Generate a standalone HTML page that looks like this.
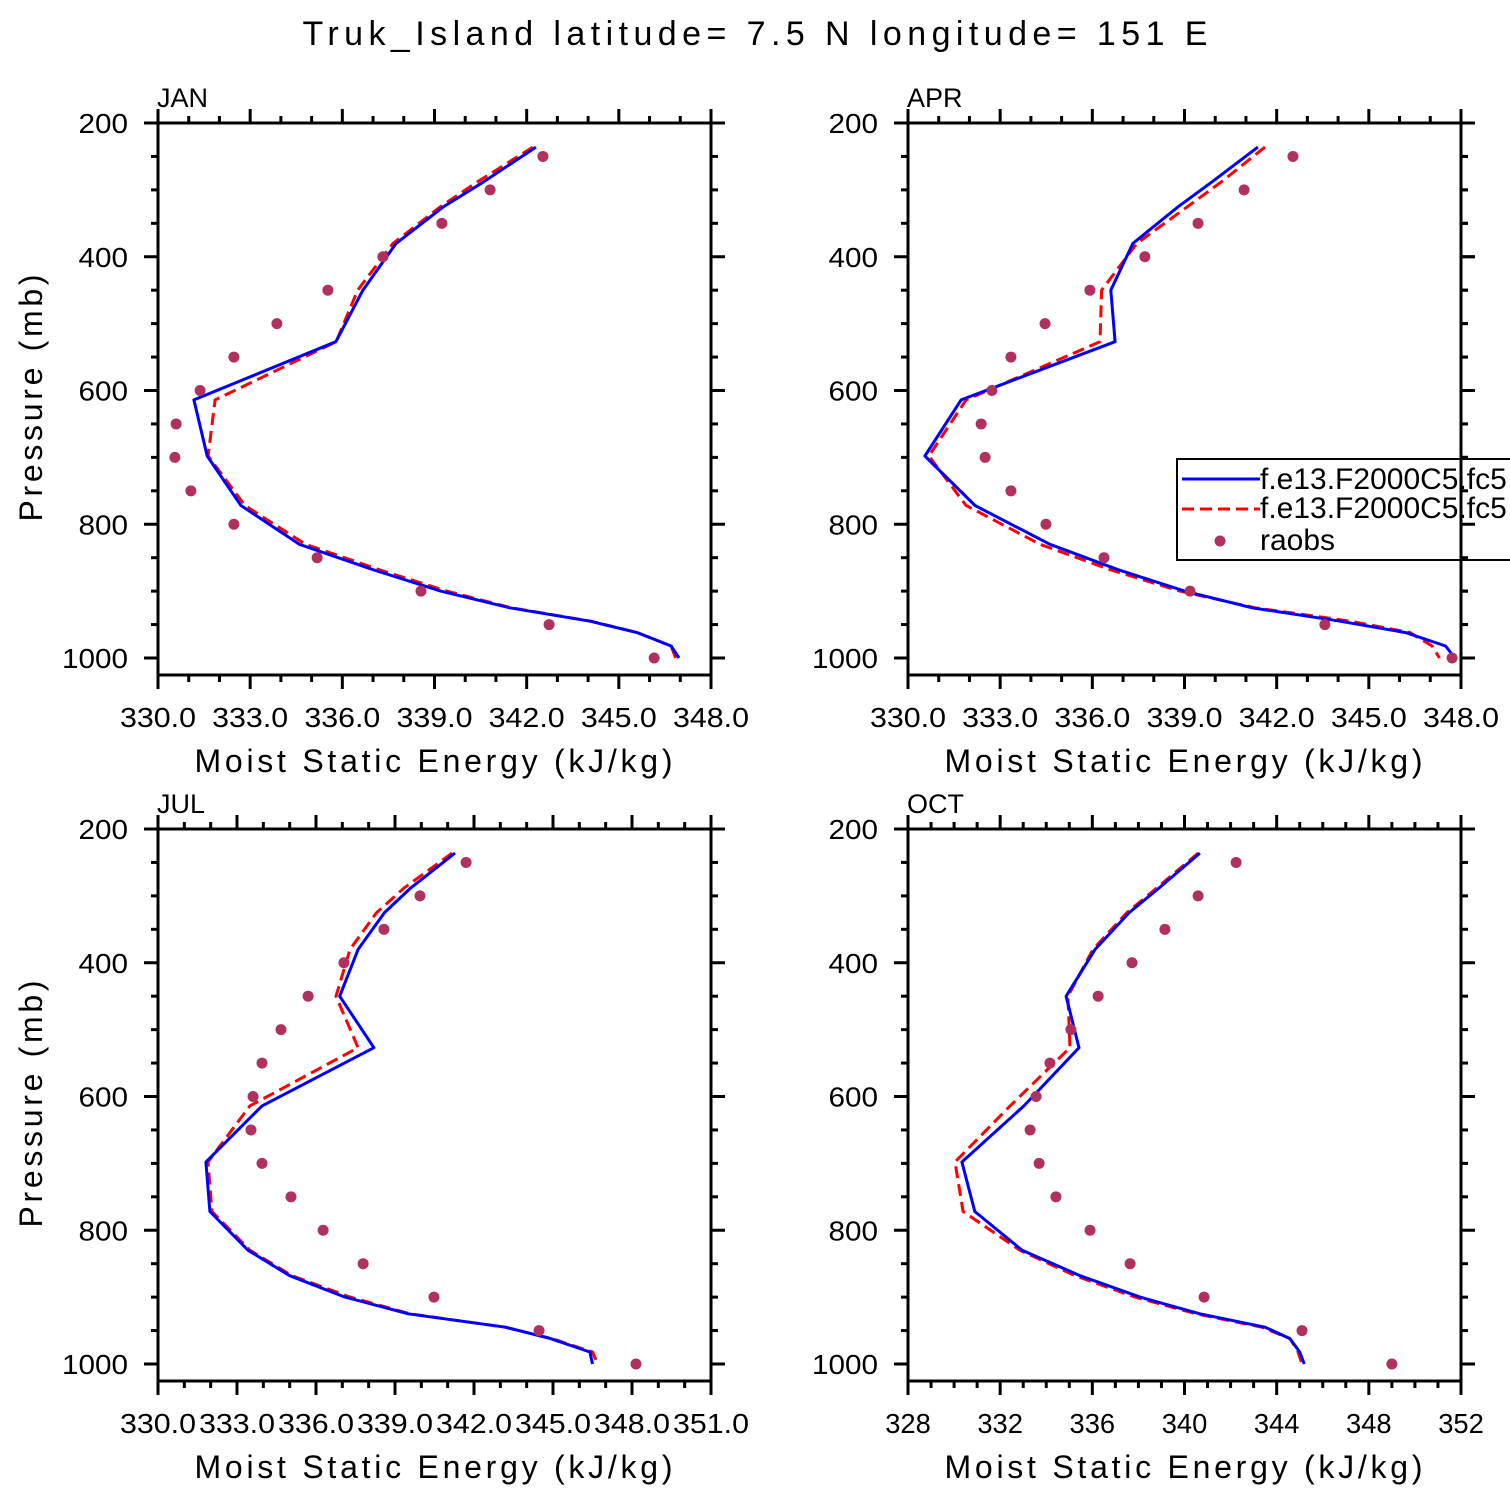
<!DOCTYPE html>
<html><head><meta charset="utf-8"><style>
html,body{margin:0;padding:0;background:#fff;}
svg{display:block;font-family:"Liberation Sans",sans-serif;}
</style></head><body>
<svg id="c" width="1510" height="1510" viewBox="0 0 1510 1510">
<text x="755" y="45" font-size="34" text-anchor="middle" textLength="905" lengthAdjust="spacing">Truk_Island  latitude= 7.5 N longitude= 151 E</text>
</svg>
<script>
const obsP=[250,300,350,400,450,500,550,600,650,700,750,800,850,900,950,1000];
const modP=[236,288,325,380,450,527,614,698,772,830,868,900,925,945,962,982,1000];
const yTicks=[200,400,600,800,1000];
const janObs=[342.53,340.81,339.24,337.32,335.53,333.87,332.47,331.37,330.59,330.55,331.07,332.47,335.18,338.56,342.73,346.15];
const janBlue=[342.3,340.6,339.3,337.75,336.67,335.79,331.17,331.6,332.7,334.6,337.0,339.2,341.45,344.06,345.6,346.7,346.96];
const janRed=[342.2,340.4,339.2,337.65,336.5,335.8,331.86,331.63,332.83,334.8,337.2,339.4,341.5,344.1,345.6,346.7,346.85];
const aprObs=[342.53,340.94,339.44,337.71,335.92,334.46,333.35,332.73,332.38,332.51,333.35,334.49,336.38,339.18,343.57,347.71];
const aprBlue=[341.39,339.9,338.8,337.32,336.6,336.74,331.73,330.55,332.18,334.62,336.84,339.0,341.2,344.06,346.2,347.5,347.8];
const aprRed=[341.62,340.2,339.1,337.45,336.3,336.25,331.89,330.68,331.89,334.3,336.58,338.85,341.3,344.4,346.34,347.06,347.3];
const julObs=[341.70,339.95,338.58,337.06,335.70,334.67,333.95,333.61,333.53,333.95,335.05,336.27,337.79,340.48,344.47,348.15];
const julBlue=[341.28,339.6,338.6,337.6,336.9,338.2,333.95,331.82,331.97,333.42,335.0,337.1,339.5,343.2,344.9,346.4,346.5];
const julRed=[341.17,339.35,338.3,337.29,336.76,337.6,333.49,331.9,332.05,333.49,335.09,337.29,339.57,343.18,344.96,346.5,346.7];
const octObs=[342.24,340.59,339.15,337.72,336.25,335.07,334.16,333.56,333.3,333.69,334.42,335.9,337.64,340.85,345.1,349.0];
const octBlue=[340.67,338.9,337.6,336.12,334.86,335.42,333.03,330.34,330.9,332.95,335.47,338.07,340.67,343.5,344.58,345.0,345.2];
const octRed=[340.59,338.8,337.5,336.03,334.94,335.03,332.43,330.04,330.39,332.86,335.25,337.85,340.5,343.36,344.58,344.93,345.1];

const NS="http://www.w3.org/2000/svg";
const svg=document.getElementById('c');
function mk(tag,attrs,parent){const e=document.createElementNS(NS,tag);for(const k in attrs)e.setAttribute(k,attrs[k]);(parent||svg).appendChild(e);return e;}

const panels=[
 {key:'jan',label:'JAN',x0:158,y0:123,xmin:330,xmax:348,major:3,minor:1,dec:1,obs:janObs,blue:janBlue,red:janRed},
 {key:'apr',label:'APR',x0:908,y0:123,xmin:330,xmax:348,major:3,minor:1,dec:1,obs:aprObs,blue:aprBlue,red:aprRed},
 {key:'jul',label:'JUL',x0:158,y0:829,xmin:330,xmax:351,major:3,minor:1,dec:1,obs:julObs,blue:julBlue,red:julRed},
 {key:'oct',label:'OCT',x0:908,y0:829,xmin:328,xmax:352,major:4,minor:1,dec:0,obs:octObs,blue:octBlue,red:octRed}
];
const W=553,H=552,pxPerMb=535/800;
panels.forEach(p=>{
 const g=mk('g',{});
 
 
 const X=v=>p.x0+(v-p.xmin)/(p.xmax-p.xmin)*W;
 const Y=pr=>p.y0+(pr-200)*pxPerMb;
 const x1=p.x0+W,y1=p.y0+H;
 const cid='clip-'+p.key;
 const cp=mk('clipPath',{id:cid},g);mk('rect',{x:p.x0,y:p.y0,width:W,height:H},cp);
 const pts=a=>a.map((v,i)=>X(v).toFixed(1)+','+Y(modP[i]).toFixed(1)).join(' ');
 const lr=mk('polyline',{points:pts(p.red),fill:'none',stroke:'#ff0000','stroke-width':3,'stroke-dasharray':'12,6','clip-path':'url(#'+cid+')'},g);
 
 
 const lb=mk('polyline',{points:pts(p.blue),fill:'none',stroke:'#0000ff','stroke-width':3,'stroke-linejoin':'round','clip-path':'url(#'+cid+')'},g);
 
 
 p.obs.forEach((v,i)=>{
  const c=mk('circle',{cx:X(v),cy:Y(obsP[i]),r:5.5,fill:'#b03060'},g);
  
  
 });
 const fr=mk('rect',{x:p.x0,y:p.y0,width:W,height:H,fill:'none',stroke:'#000','stroke-width':3},g);
 
 
 for(let pr=200;pr<=1000;pr+=50){
  const yy=Y(pr),len=(pr%200===0)?14:7;
  mk('line',{x1:p.x0-len,y1:yy,x2:p.x0,y2:yy,stroke:'#000','stroke-width':3},g);
  mk('line',{x1:x1,y1:yy,x2:x1+len,y2:yy,stroke:'#000','stroke-width':3},g);
 }
 yTicks.forEach(pr=>{
  const s=String(pr);
  const t=mk('text',{x:p.x0-30,y:Y(pr)+10,'font-size':28,'text-anchor':'end',textLength:s.length*16.5,lengthAdjust:'spacingAndGlyphs'},g);
  t.textContent=s;
  
  
 });
 for(let v=p.xmin;v<=p.xmax+1e-9;v+=p.minor){
  const xx=X(v),isM=Math.abs((v-p.xmin)%p.major)<1e-6,len=isM?14:7;
  mk('line',{x1:xx,y1:y1,x2:xx,y2:y1+len,stroke:'#000','stroke-width':3},g);
  mk('line',{x1:xx,y1:p.y0-len,x2:xx,y2:p.y0,stroke:'#000','stroke-width':3},g);
  if(isM){
   const s=v.toFixed(p.dec);
   const t=mk('text',{x:xx,y:y1+52,'font-size':28,'text-anchor':'middle',textLength:s.length*15.2,lengthAdjust:'spacingAndGlyphs'},g);
   t.textContent=s;
   
   
  }
 }
 const xt=mk('text',{x:p.x0+W/2-1,y:y1+97,'font-size':32,'text-anchor':'middle',textLength:478,lengthAdjust:'spacing'},g);
 xt.textContent='Moist Static Energy (kJ/kg)';
 
 
 const pl=mk('text',{x:p.x0-1,y:p.y0-16,'font-size':27},g);
 pl.textContent=p.label;
 
 
 if(p.key==='jan'||p.key==='jul'){
  const cy=p.y0+275;
  const yt=mk('text',{x:0,y:0,'font-size':32,'text-anchor':'middle',textLength:247,lengthAdjust:'spacing',transform:'translate(42,'+cy+') rotate(-90)'},g);
  yt.textContent='Pressure (mb)';
  
  
 }
});
const lg=mk('g',{});


mk('rect',{x:1177,y:459,width:345,height:101,fill:'#fff',stroke:'#000','stroke-width':2},lg);
mk('line',{x1:1182,y1:479,x2:1260,y2:479,stroke:'#0000ff','stroke-width':3},lg);
mk('line',{x1:1182,y1:509,x2:1260,y2:509,stroke:'#ff0000','stroke-width':3,'stroke-dasharray':'12,6'},lg);
mk('circle',{cx:1220,cy:541,r:5.5,fill:'#b03060'},lg);
[['f.e13.F2000C5.fc5',489],['f.e13.F2000C5.fc5',518],['raobs',550]].forEach((d,i)=>{
 const t=mk('text',{x:1260,y:d[1],'font-size':30},lg);
 t.textContent=d[0];
 
 
});
mk('line',{x1:1461,y1:123,x2:1461,y2:675,stroke:'#000','stroke-width':3});
for(let pr=200;pr<=1000;pr+=50){const yy=123+(pr-200)*pxPerMb,len=(pr%200===0)?14:7;mk('line',{x1:1461,y1:yy,x2:1461+len,y2:yy,stroke:'#000','stroke-width':3});}
</script>
</body></html>
